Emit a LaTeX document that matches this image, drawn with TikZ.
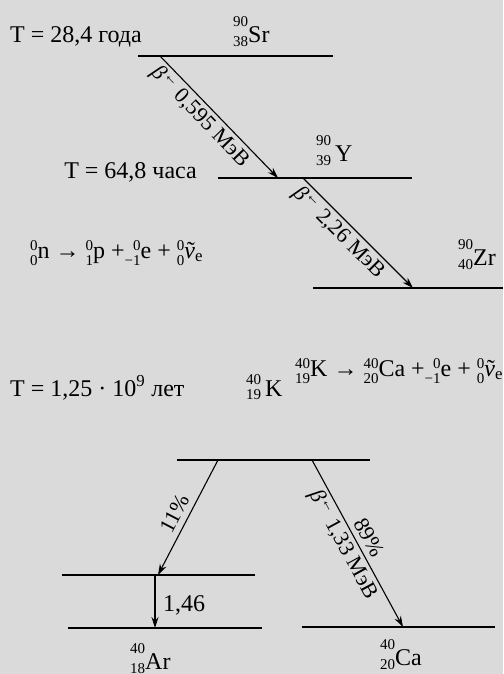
\documentclass[tikz,border=0pt]{standalone}
\usepackage{fontspec}
\setmainfont{Liberation Serif}
\usetikzlibrary{arrows.meta}
\definecolor{bgc}{RGB}{218,218,218}
\newlength\nucw
\newcommand\nucsz{\fontsize{15}{15}\selectfont}
% nuclide stack: #1 raise of mass, #2 lowering of charge, #3 mass, #4 charge, #5 symbol
\newcommand{\nucgen}[5]{{\sbox0{\nucsz#3}\sbox2{\nucsz#4}\setlength\nucw{\wd0}\ifdim\wd2>\nucw\setlength\nucw{\wd2}\fi\makebox[\nucw][r]{\raisebox{#1}{\usebox0}}\kern-\nucw\makebox[\nucw][r]{\raisebox{-#2}{\usebox2}}#5}}
\newcommand{\nuc}{\nucgen{16pt}{4pt}}
\newcommand{\nucK}{\nucgen{12pt}{3pt}}
\newcommand{\nucE}{\nucgen{8pt}{7pt}}
\newcommand{\nutilde}{\makebox[0pt][l]{\kern0.1em˜}\textit{ν}}
\begin{document}
\begin{tikzpicture}[x=1pt,y=-1pt,
  font=\fontsize{24}{28}\selectfont,
  level/.style={line width=2pt},
  decay/.style={line width=1.1pt,-{Stealth[length=11pt,width=7pt]}},
  lbl/.style={anchor=base west,inner sep=0pt},
  albl/.style={sloped,font=\fontsize{22}{24}\selectfont,inner sep=3pt}]
\fill[bgc] (0,0) rectangle (503,674);
\useasboundingbox (0,0) rectangle (503,674);

% Sr-90 chain
\coordinate (sr1) at (138,56);  \coordinate (sr2) at (333,56);
\coordinate (y1) at (218,178);  \coordinate (y2) at (412,178);
\coordinate (zr1) at (313,288); \coordinate (zr2) at (503,288);
\coordinate (a1s) at (160,56);  \coordinate (a1e) at (278,178);
\coordinate (a2s) at (303,178); \coordinate (a2e) at (413,288);
\draw[level] (sr1) -- (sr2);
\draw[level] (y1) -- (y2);
\draw[level] (zr1) -- (zr2);
\draw[decay] (a1s) -- node[albl,below,pos=0.42]{\textit{β}\textsuperscript{←} 0,595 МэВ} (a1e);
\draw[decay] (a2s) -- node[albl,below,pos=0.41]{\textit{β}\textsuperscript{←} 2,26 МэВ} (a2e);

\node[lbl] (t1) at (10,43) {T = 28,4 года};
\node[lbl] (sr) at (233,43) {\nuc{90}{38}{Sr}};
\node[anchor=base east,inner sep=0pt] (t2) at (197,178) {T = 64,8 часа};
\node[lbl] (y) at (316,161) {\nuc{90}{39}{\,Y}};
\node[lbl] (zr) at (458,265) {\nuc{90}{40}{Zr}};
\node[lbl] (eq1) at (30,258) {\nucE{0}{0}{n} → \nucE{0}{1}{p} +\nucE{0}{−1}{e} + \nucE{0}{0}{\nutilde}\textsubscript{e}};

% K-40
\node[lbl] (eq2) at (295,376) {\nucE{40}{19}{K} → \nucE{40}{20}{Ca} +\nucE{0}{−1}{e} + \nucE{0}{0}{\nutilde}\textsubscript{e}};
\node[lbl] (t3) at (10,396) {T = 1,25 · 10\textsuperscript{9} лет};
\node[lbl] (k) at (246,396) {\nucK{40}{19}{\,K}};

\coordinate (k1) at (177,460);  \coordinate (k2) at (370,460);
\coordinate (ar1) at (62,575);  \coordinate (ar2) at (255,575);
\coordinate (ag1) at (68,628);  \coordinate (ag2) at (262,628);
\coordinate (ca1) at (302,627); \coordinate (ca2) at (495,627);
\coordinate (b1s) at (218,460); \coordinate (b1e) at (158,575);
\coordinate (b2s) at (312,460); \coordinate (b2e) at (403,627);
\coordinate (gs) at (155,575);  \coordinate (ge) at (155,628);
\draw[level] (k1) -- (k2);
\draw[level] (ar1) -- (ar2);
\draw[level] (ag1) -- (ag2);
\draw[level] (ca1) -- (ca2);
\draw[decay] (b1s) -- node[albl,above,pos=0.52,inner sep=6pt]{11\%} (b1e);
\draw[decay] (b2s) -- node[albl,above,pos=0.50,inner sep=5pt]{89\%}
                      node[albl,below,pos=0.47]{\textit{β}\textsuperscript{←} 1,33 МэВ} (b2e);
\draw[decay] (gs) -- (ge);
\node[lbl] (v146) at (163,611) {1,46};
\node[lbl] (ar) at (130,669) {\nuc{40}{18}{Ar}};
\node[lbl] (ca) at (380,665) {\nuc{40}{20}{Ca}};
\end{tikzpicture}
\end{document}
